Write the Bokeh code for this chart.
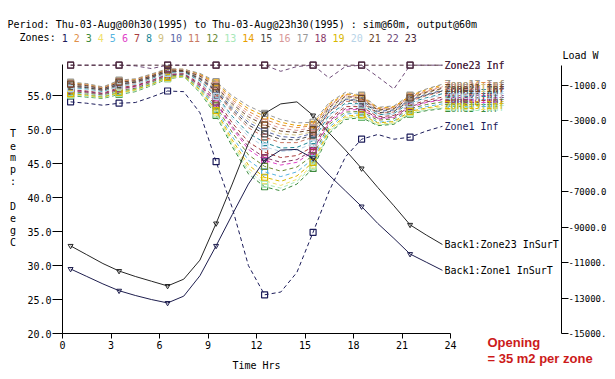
from bokeh.plotting import figure
from bokeh.models import Range1d, LinearAxis, FixedTicker, PrintfTickFormatter
from bokeh.embed import file_html
from bokeh.resources import INLINE
from bokeh.core.properties import value

# ---------------- data ----------------
hours = [0.5, 1.5, 2.5, 3.5, 4.5, 5.5, 6.5, 7.5, 8.5, 9.5, 10.5, 11.5,
         12.5, 13.5, 14.5, 15.5, 16.5, 17.5, 18.5, 19.5, 20.5, 21.5, 22.5, 23.5]

zone01 = [54.1, 53.9, 53.6, 53.9, 54.0, 54.8, 55.7, 55.6, 52.5, 45.3, 38.5, 30.0, 25.7, 26.1, 29.0, 34.9, 41.0, 46.0, 48.6, 49.3, 48.6, 48.9, 49.8, 50.5]
zone02 = [56.8, 56.6, 56.2, 57.1, 57.4, 58.1, 58.9, 58.8, 58.1, 56.7, 54.4, 52.7, 51.5, 50.7, 50.3, 50.6, 53.6, 55.2, 54.8, 53.1, 53.3, 54.9, 55.7, 56.4]
zone03 = [55.0, 54.8, 54.6, 55.2, 55.6, 56.5, 57.5, 57.8, 55.5, 52.1, 47.5, 43.5, 41.6, 41.0, 42.0, 44.3, 49.5, 51.5, 51.8, 50.6, 50.8, 52.3, 52.8, 53.1]
zone04 = [55.2, 55.0, 54.7, 55.4, 55.8, 56.6, 57.6, 57.9, 55.7, 52.5, 48.1, 44.3, 42.5, 41.8, 42.7, 44.8, 49.9, 51.8, 52.1, 50.8, 51.0, 52.5, 53.1, 53.4]
zone05 = [55.4, 55.2, 54.9, 55.6, 56.0, 56.8, 57.8, 58.0, 56.1, 53.1, 49.0, 45.5, 43.8, 43.1, 43.8, 45.7, 50.4, 52.3, 52.5, 51.1, 51.3, 52.9, 53.4, 53.8]
zone06 = [55.7, 55.5, 55.2, 56.0, 56.3, 57.1, 58.0, 58.2, 56.5, 53.9, 50.2, 47.1, 45.5, 44.8, 45.2, 46.8, 51.1, 52.9, 53.0, 51.6, 51.8, 53.3, 54.0, 54.4]
zone07 = [55.9, 55.7, 55.4, 56.2, 56.5, 57.3, 58.2, 58.3, 56.8, 54.5, 51.0, 48.2, 46.7, 45.9, 46.2, 47.5, 51.6, 53.4, 53.4, 51.9, 52.1, 53.6, 54.3, 54.8]
zone08 = [56.2, 56.0, 55.6, 56.5, 56.7, 57.5, 58.4, 58.5, 57.2, 55.1, 52.0, 49.5, 48.1, 47.3, 47.4, 48.4, 52.2, 53.9, 53.8, 52.2, 52.4, 54.0, 54.7, 55.3]
zone09 = [56.6, 56.4, 56.0, 56.9, 57.1, 57.9, 58.7, 58.7, 57.7, 56.1, 53.5, 51.5, 50.2, 49.4, 49.2, 49.7, 53.1, 54.7, 54.4, 52.8, 53.0, 54.5, 55.4, 56.0]
zone10 = [56.5, 56.3, 55.9, 56.8, 57.0, 57.8, 58.6, 58.6, 57.6, 55.9, 53.2, 51.1, 49.8, 49.0, 48.8, 49.5, 52.9, 54.5, 54.3, 52.7, 52.9, 54.4, 55.2, 55.8]
zone11 = [56.4, 56.2, 55.8, 56.6, 56.9, 57.7, 58.5, 58.6, 57.4, 55.5, 52.6, 50.3, 48.9, 48.1, 48.1, 48.9, 52.6, 54.2, 54.0, 52.4, 52.6, 54.2, 55.0, 55.6]
zone12 = [55.6, 55.4, 55.1, 55.8, 56.1, 57.0, 57.9, 58.1, 56.3, 53.5, 49.6, 46.3, 44.6, 43.9, 44.5, 46.2, 50.8, 52.6, 52.7, 51.4, 51.6, 53.1, 53.7, 54.1]
zone13 = [55.1, 54.9, 54.7, 55.3, 55.7, 56.6, 57.6, 57.8, 55.6, 52.3, 47.8, 43.9, 42.0, 41.4, 42.4, 44.6, 49.7, 51.7, 51.9, 50.7, 50.9, 52.4, 52.9, 53.2]
zone14 = [56.9, 56.7, 56.2, 57.2, 57.4, 58.1, 58.9, 58.9, 58.2, 56.9, 54.7, 53.1, 52.0, 51.1, 50.6, 50.8, 53.8, 55.3, 55.0, 53.2, 53.4, 55.0, 55.9, 56.6]
zone15 = [56.4, 56.2, 55.8, 56.7, 57.0, 57.7, 58.6, 58.6, 57.5, 55.7, 52.9, 50.7, 49.4, 48.6, 48.5, 49.2, 52.7, 54.4, 54.2, 52.5, 52.7, 54.3, 55.1, 55.7]
zone16 = [56.8, 56.6, 56.1, 57.1, 57.3, 58.0, 58.8, 58.8, 58.0, 56.5, 54.1, 52.3, 51.1, 50.2, 49.9, 50.3, 53.5, 55.0, 54.7, 53.0, 53.2, 54.8, 55.6, 56.3]
zone17 = [57.0, 56.8, 56.3, 57.3, 57.5, 58.2, 59.0, 58.9, 58.3, 57.1, 55.0, 53.5, 52.4, 51.5, 51.0, 51.1, 54.0, 55.5, 55.1, 53.3, 53.5, 55.1, 56.0, 56.7]
zone18 = [55.8, 55.6, 55.3, 56.0, 56.4, 57.2, 58.1, 58.2, 56.6, 54.1, 50.5, 47.5, 45.9, 45.2, 45.6, 47.0, 51.3, 53.1, 53.1, 51.7, 51.9, 53.4, 54.1, 54.5]
zone19 = [55.3, 55.1, 54.8, 55.5, 55.9, 56.7, 57.7, 57.9, 55.9, 52.8, 48.5, 44.8, 43.0, 42.4, 43.2, 45.2, 50.1, 52.0, 52.2, 51.0, 51.2, 52.7, 53.2, 53.6]
zone20 = [56.1, 55.9, 55.5, 56.4, 56.7, 57.4, 58.3, 58.4, 57.0, 54.9, 51.6, 49.0, 47.5, 46.8, 47.0, 48.0, 52.0, 53.7, 53.6, 52.1, 52.3, 53.8, 54.6, 55.1]
zone21 = [56.7, 56.5, 56.0, 57.0, 57.2, 57.9, 58.8, 58.7, 57.9, 56.3, 53.8, 51.9, 50.7, 49.8, 49.6, 50.0, 53.3, 54.9, 54.6, 52.9, 53.1, 54.7, 55.5, 56.1]
zone22 = [59.5, 59.5, 59.5, 59.5, 59.4, 59.0, 59.5, 59.5, 59.5, 59.5, 59.5, 59.5, 59.5, 58.6, 59.3, 59.5, 57.6, 59.3, 59.5, 57.8, 56.0, 59.5, 59.5, 59.5]
zone23 = [59.5, 59.5, 59.5, 59.5, 59.5, 59.5, 59.5, 59.5, 59.5, 59.5, 59.5, 59.5, 59.5, 59.5, 59.5, 59.5, 59.5, 59.5, 59.5, 59.5, 59.5, 59.5, 59.5, 59.5]

back1_zone23_insurt = [32.9, 31.6, 30.3, 29.2, 28.4, 27.7, 27.0, 28.0, 30.8, 36.2, 42.0, 48.0, 52.4, 53.8, 54.1, 52.1, 49.5, 47.0, 44.3, 41.5, 38.8, 36.0, 34.5, 33.1]
back1_zone1_insurt = [29.5, 28.4, 27.3, 26.3, 25.6, 25.0, 24.5, 25.5, 28.5, 32.9, 37.5, 42.0, 45.5, 47.0, 47.1, 45.8, 43.3, 41.0, 38.7, 36.2, 34.0, 31.7, 30.5, 29.3]

zone_names = ["Zone%d Inf" % n for n in range(1, 24)]
zone_colors = ["#1c1c5a", "#e0904a", "#3c8a3c", "#f0e06a", "#58b4e0", "#e040c8",
               "#a83c3c", "#208898", "#d0c080", "#5a68a8", "#c87864", "#6a8a34",
               "#a8e8b8", "#e8a000", "#484848", "#d89898", "#989898", "#883868",
               "#d8b800", "#b8d4e8", "#6a4428", "#6e4a78", "#4a2838"]
zone_series = [zone01, zone02, zone03, zone04, zone05, zone06, zone07, zone08,
               zone09, zone10, zone11, zone12, zone13, zone14, zone15, zone16,
               zone17, zone18, zone19, zone20, zone21, zone22, zone23]

x_ticks = [0, 3, 6, 9, 12, 15, 18, 21, 24]
temp_ticks = [20, 25, 30, 35, 40, 45, 50, 55]
load_ticks = [-1000, -3000, -5000, -7000, -9000, -11000, -13000, -15000]
load_tick_labels = ["-1000.0", "-3000.0", "-5000.0", "-7000.0", "-9000.0",
                    "-11000.", "-13000.", "-15000."]

period_text = "Period: Thu-03-Aug@00h30(1995) to Thu-03-Aug@23h30(1995) : sim@60m, output@60m"
y_title = "Temp: DegC"

# ---------------- layout (canvas pixel geometry) ----------------
MONO = "DejaVu Sans Mono"
W, H = 607, 371
X0_PX, X24_PX = 62, 450          # pixel of hour 0 and hour 24
Y20_PX, YTOP_PX = 333, 64        # pixel of 20 degC and top of temperature axis
T_TOP = 59.6
RIGHT_AXIS_PX = 561
L1000_PX, L15000_PX = 85, 333    # pixels of -1000 W and -15000 W

PX_PER_HR = (X24_PX - X0_PX) / 24.0
PX_PER_DEG = (Y20_PX - YTOP_PX) / (T_TOP - 20.0)
PX_PER_W = (L15000_PX - L1000_PX) / 14000.0


def dx(px):
    return (px - X0_PX) / PX_PER_HR


def dy(py):
    return 20.0 + (Y20_PX - py) / PX_PER_DEG


def dl(py):
    return -15000.0 + (L15000_PX - py) / PX_PER_W


p = figure(width=W, height=H, x_range=Range1d(dx(0), dx(W)),
           y_range=Range1d(dy(H), dy(0)),
           x_axis_type=None, y_axis_type=None, output_backend="svg",
           toolbar_location=None, min_border=0,
           min_border_left=0, min_border_right=0, min_border_top=0, min_border_bottom=0)
p.outline_line_color = None
p.background_fill_color = "white"
p.border_fill_color = "white"
p.extra_y_ranges = {"load": Range1d(dl(H), dl(0))}


def style_axis(ax, tick_out, standoff, size="10px"):
    ax.major_tick_in = 0
    ax.major_tick_out = tick_out
    ax.minor_tick_out = 0
    ax.minor_tick_in = 0
    ax.major_label_standoff = standoff
    ax.major_label_text_font = MONO
    ax.major_label_text_font_size = size
    ax.major_label_text_color = "black"
    ax.axis_line_color = "black"
    ax.major_tick_line_color = "black"


xa = LinearAxis(ticker=FixedTicker(ticks=x_ticks), bounds=(0, 24), fixed_location=20)
style_axis(xa, 5, 2)
p.add_layout(xa, "below")

ya = LinearAxis(ticker=FixedTicker(ticks=temp_ticks), bounds=(20, T_TOP),
                formatter=PrintfTickFormatter(format="%.1f"), fixed_location=0)
style_axis(ya, 10, 1)
p.add_layout(ya, "left")

ra = LinearAxis(y_range_name="load", ticker=FixedTicker(ticks=load_ticks),
                bounds=(-15000, dl(YTOP_PX + 1)), fixed_location=dx(RIGHT_AXIS_PX),
                major_label_overrides=dict(zip(load_ticks, load_tick_labels)))
style_axis(ra, 7, 0, "9px")
p.add_layout(ra, "right")

marker_x = hours[::3]

# zone temperature lines
for name, col, vals in zip(zone_names, zone_colors, zone_series):
    p.line(hours, vals, line_color=col, line_width=1, line_dash="4 3")
    p.scatter(marker_x, vals[::3], marker="square", size=6,
              fill_color=None, line_color=col, line_width=1.2)
    p.text(x=[hours[-1]], y=[vals[-1]], text=[name], text_color=col,
           text_font=value(MONO), text_font_size="10px",
           text_baseline="middle", text_align="left", x_offset=2)

# surface temperature lines
for name, col, vals in [("Back1:Zone23 InSurT", "#262626", back1_zone23_insurt),
                        ("Back1:Zone1 InSurT", "#1e1e4e", back1_zone1_insurt)]:
    p.line(hours, vals, line_color=col, line_width=1)
    p.scatter(marker_x, vals[::3], marker="inverted_triangle", size=5,
              fill_color=None, line_color=col, line_width=1)
    p.text(x=[hours[-1]], y=[vals[-1]], text=[name], text_color="black",
           text_font=value(MONO), text_font_size="10px",
           text_baseline="middle", text_align="left", x_offset=2)

# ---------------- texts ----------------
CW = 6.02


def mono(px, py, txt, color="black", align="left"):
    p.text(x=[dx(px)], y=[dy(py)], text=[txt], text_color=color,
           text_font=value(MONO), text_font_size="10px",
           text_baseline="middle", text_align=align)


mono(7, 24, period_text)

zones_line = [("Zones:", "black")] + [(str(n), c) for n, c in zip(range(1, 24), zone_colors)]
idx = 2
for tok, col in zones_line:
    mono(7 + idx * CW, 37, tok, col)
    idx += len(tok) + 1

for i, ch in enumerate(y_title.replace(" ", "_")):
    if ch != "_":
        mono(12.5, 133 + i * 12.1, ch, "black", "center")

mono(256, 365, "Time Hrs", "black", "center")
mono(562, 55, "Load W")

for py, txt in [(342, "Opening"), (358, "= 35 m2 per zone")]:
    p.text(x=[dx(487)], y=[dy(py)], text=[txt], text_color="#cc1a1a",
           text_font=value("Liberation Sans"), text_font_style="bold",
           text_font_size="13px", text_baseline="middle", text_align="left")

open("out.html", "w").write(file_html(p, INLINE))
